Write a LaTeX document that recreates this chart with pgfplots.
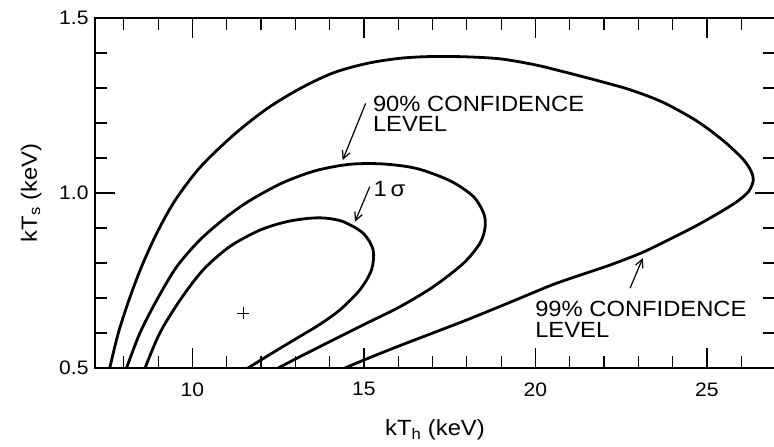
\documentclass[border=0pt]{standalone}
\usepackage{fontspec}
\setmainfont[FakeStretch=1.08]{Liberation Sans}
\usepackage{pgfplots}
\pgfplotsset{compat=1.18}
\usetikzlibrary{arrows.meta}
\begin{document}
\begin{tikzpicture}
\begin{axis}[
  at={(0,0)}, anchor=south west,
  scale only axis, width=680pt, height=350pt,
  xmin=7.16, xmax=26.985, ymin=0.5, ymax=1.5,
  xtick={10,15,20,25}, ytick={0.5,1.0,1.5},
  minor xtick={8,9,...,26}, minor ytick={0.6,0.7,...,1.4},
  tick align=inside,
  major tick length=20pt, minor tick length=12pt,
  axis line style={line width=1.8pt},
  every tick/.style={line width=1.2pt, black},
  /pgf/number format/assume math mode=true,
  tick label style={font=\fontsize{19.5}{23}\selectfont},
  xticklabel style={yshift=-11pt},
  yticklabel style={xshift=-3pt, /pgf/number format/fixed, /pgf/number format/fixed zerofill, /pgf/number format/precision=1},
  xlabel={kT\textsubscript{h} (keV)}, ylabel={kT\textsubscript{s} (keV)},
  label style={font=\fontsize{22}{26}\selectfont},
  xlabel style={at={(axis description cs:0.5,-0.194)}, anchor=base},
  ylabel style={at={(axis description cs:-0.0853,0.5)}, anchor=base},
]
% 99% contour
\addplot[line width=2.8pt, smooth, black] coordinates {
(7.59,0.50) (7.84,0.60) (8.16,0.697) (8.52,0.790) (8.96,0.885) (9.49,0.978)
(10.22,1.073) (11.18,1.164) (12.16,1.240) (13.13,1.298) (14.10,1.343)
(15.08,1.370) (16.06,1.385) (17.0,1.390) (18.0,1.389) (19.0,1.383)
(20.0,1.366) (20.8,1.347) (21.78,1.322) (22.76,1.295) (23.72,1.259)
(24.70,1.206) (25.47,1.150) (26.05,1.097) (26.30,1.060) (26.35,1.035)
(26.22,1.005) (25.90,0.977) (25.40,0.946) (24.70,0.907) (24.12,0.878)
(23.14,0.831) (22.17,0.794) (21.20,0.762) (20.50,0.738) (19.93,0.715)
(18.97,0.676) (17.99,0.637) (17.01,0.600) (16.05,0.564) (15.08,0.526)
(14.45,0.50)};
% 90% contour
\addplot[line width=2.8pt, smooth, black] coordinates {
(8.08,0.50) (8.47,0.60) (8.96,0.694) (9.54,0.789) (10.22,0.866)
(11.0,0.932) (11.7,0.980) (12.65,1.030) (13.6,1.064) (14.59,1.082)
(15.56,1.083) (16.54,1.070) (17.51,1.035) (18.19,0.990) (18.5,0.940)
(18.53,0.900) (18.38,0.856) (17.90,0.799) (17.02,0.732) (16.05,0.675)
(15.08,0.628) (14.10,0.58) (13.13,0.532) (12.50,0.50)};
% 1 sigma contour
\addplot[line width=2.8pt, smooth, black] coordinates {
(8.62,0.50) (9.05,0.60) (9.64,0.694) (10.31,0.78) (11.09,0.847)
(11.97,0.894) (12.75,0.918) (13.43,0.928) (13.9,0.928) (14.40,0.918)
(14.98,0.885) (15.27,0.837) (15.22,0.78) (14.88,0.723) (14.30,0.666)
(13.72,0.625) (13.13,0.59) (12.45,0.55) (11.62,0.50)};
% best fit
\addplot[only marks, mark=+, mark size=6pt, line width=1.2pt, black] coordinates {(11.48,0.656)};
% annotations
\node[anchor=base west, inner sep=0pt, font=\fontsize{22}{24}\selectfont] at (axis cs:15.26,1.232) {90\% CONFIDENCE};
\node[anchor=base west, inner sep=0pt, font=\fontsize{22}{24}\selectfont] at (axis cs:15.26,1.175) {LEVEL};
\node[anchor=base west, inner sep=0pt, font=\fontsize{22}{24}\selectfont] at (axis cs:15.28,0.99) {1\,σ};
\node[anchor=base west, inner sep=0pt, font=\fontsize{22}{24}\selectfont] at (axis cs:19.99,0.647) {99\% CONFIDENCE};
\node[anchor=base west, inner sep=0pt, font=\fontsize{22}{24}\selectfont] at (axis cs:19.99,0.588) {LEVEL};
\draw[line width=1.2pt, -{Straight Barb[length=8pt,width=8pt]}] (axis cs:15.05,1.256) -- (axis cs:14.38,1.094);
\draw[line width=1.2pt, -{Straight Barb[length=8pt,width=8pt]}] (axis cs:15.17,1.018) -- (axis cs:14.74,0.918);
\draw[line width=1.2pt, -{Straight Barb[length=8pt,width=8pt]}] (axis cs:22.76,0.728) -- (axis cs:23.13,0.814);
\end{axis}
\pgfresetboundingbox
\useasboundingbox (-95pt,-79pt) rectangle (679pt,368pt);
\end{tikzpicture}
\end{document}
